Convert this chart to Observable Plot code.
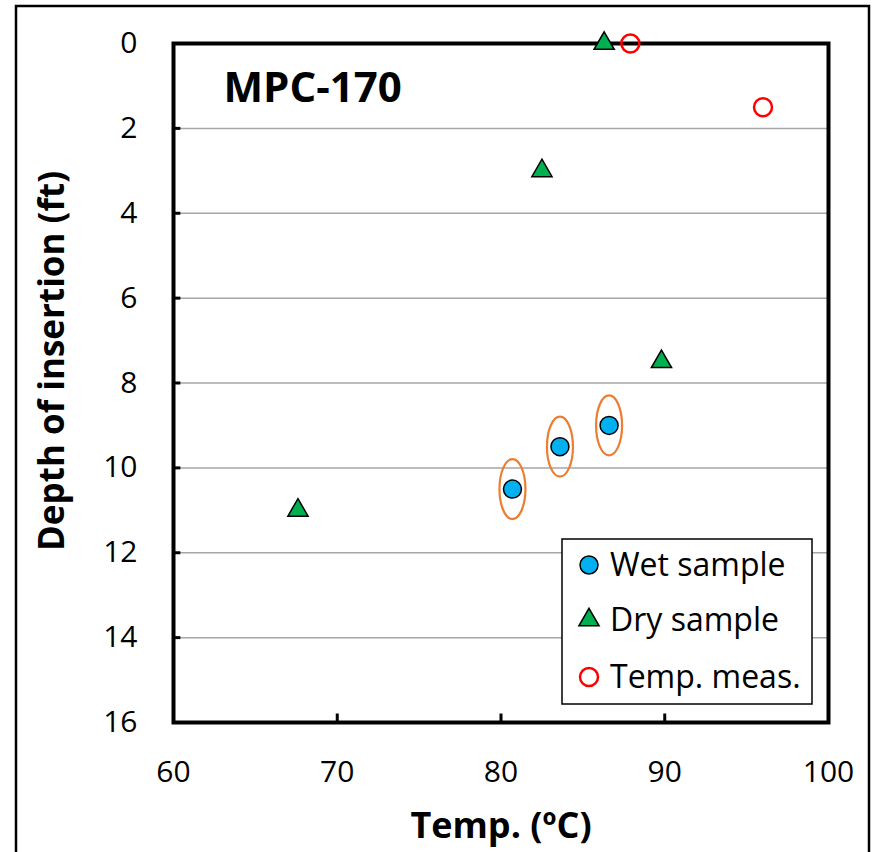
<!DOCTYPE html>
<html>
<head>
<meta charset="utf-8">
<script src="https://cdn.jsdelivr.net/npm/d3@7"></script>
<script src="https://cdn.jsdelivr.net/npm/@observablehq/plot@0.6"></script>
<style>
  html, body { margin: 0; padding: 0; background: white; }
  #chart svg { display: block; }
</style>
</head>
<body>
<div id="chart"></div>
<script>
// ---- data ----
const wetTemp = [80.7, 83.6, 86.6];
const wetDepth = [10.5, 9.5, 9.0];
const dryTemp = [86.3, 82.5, 89.8, 67.6];
const dryDepth = [0.0, 3.0, 7.5, 11.0];
const measTemp = [87.9, 96.0];
const measDepth = [0.0, 1.5];
const xTicks = [60, 70, 80, 90, 100];
const yTicks = [0, 2, 4, 6, 8, 10, 12, 14, 16];
const gridDepths = [2, 4, 6, 8, 10, 12, 14];
const innerXTicks = [70, 80, 90];
const seriesNames = ["Wet sample", "Dry sample", "Temp. meas."];
const chartTitle = "MPC-170";
const xLabel = "Temp. (ºC)";
const yLabel = "Depth of insertion (ft)";

const wet = wetTemp.map((t, i) => ({t, d: wetDepth[i]}));
const dry = dryTemp.map((t, i) => ({t, d: dryDepth[i]}));
const meas = measTemp.map((t, i) => ({t, d: measDepth[i]}));

const ellipse = {
  draw(ctx) {
    const rx = 13, ry = 30, k = 0.5523;
    ctx.moveTo(rx, 0);
    ctx.bezierCurveTo(rx, ry * k, rx * k, ry, 0, ry);
    ctx.bezierCurveTo(-rx * k, ry, -rx, ry * k, -rx, 0);
    ctx.bezierCurveTo(-rx, -ry * k, -rx * k, -ry, 0, -ry);
    ctx.bezierCurveTo(rx * k, -ry, rx, -ry * k, rx, 0);
    ctx.closePath();
  }
};

const FONT = "'Open Sans', 'Noto Sans', sans-serif";

const chart = Plot.plot({
  width: 875,
  height: 852,
  marginLeft: 173,
  marginRight: 47,
  marginTop: 43,
  marginBottom: 130,
  style: {fontFamily: FONT, color: "#000", background: "white", overflow: "visible"},
  x: {domain: [60, 100]},
  y: {domain: [0, 16], reverse: true},
  marks: [
    Plot.ruleY(gridDepths, {stroke: "#a6a6a6", strokeWidth: 1.5}),
    Plot.ruleX(innerXTicks, {y1: 16, y2: 15.8, stroke: "black", strokeWidth: 3}),
    Plot.ruleY(gridDepths, {x1: 60, x2: 60.45, stroke: "black", strokeWidth: 3}),
    Plot.frame({stroke: "black", strokeWidth: 4}),
    Plot.axisX({ticks: xTicks, tickSize: 0, tickPadding: 38, fontSize: 30, label: null, tickFormat: d => String(d)}),
    Plot.axisY({ticks: yTicks, tickSize: 0, tickPadding: 36, fontSize: 30, label: null, tickFormat: d => String(d)}),
    Plot.text([xLabel], {text: d => d, frameAnchor: "bottom", dy: 104, lineAnchor: "middle", textAnchor: "middle", fontSize: 36, fontWeight: "bold"}),
    Plot.text([yLabel], {text: d => d, frameAnchor: "left", dx: -121, dy: -22, rotate: -90, lineAnchor: "middle", textAnchor: "middle", fontSize: 35, fontWeight: "bold"}),
    Plot.text([chartTitle], {text: d => d, frameAnchor: "top-left", dx: 50, dy: 45, lineAnchor: "middle", textAnchor: "start", fontSize: 42, fontWeight: "bold"}),
    Plot.dot(wet, {x: "t", y: "d", symbol: ellipse, fill: "none", stroke: "#ED7D31", strokeWidth: 2.2}),
    Plot.dot(wet, {x: "t", y: "d", r: 9, fill: "#00B0F0", stroke: "black", strokeWidth: 1.5}),
    Plot.dot(dry, {x: "t", y: "d", symbol: "triangle", r: 7.5, fill: "#00B050", stroke: "black", strokeWidth: 1.5}),
    Plot.dot(meas, {x: "t", y: "d", r: 9, fill: "none", stroke: "#FF0000", strokeWidth: 2.5})
  ]
});

const svg = d3.select(chart);
// outer chart border
svg.append("rect").attr("x", 16).attr("y", 6).attr("width", 853).attr("height", 860)
  .attr("fill", "none").attr("stroke", "black").attr("stroke-width", 2.5);

// legend
const lg = svg.append("g").attr("text-anchor", "start");
lg.append("rect").attr("x", 562).attr("y", 539).attr("width", 250).attr("height", 165)
  .attr("fill", "white").attr("stroke", "black").attr("stroke-width", 1.5);
const rowsY = [565, 620, 677];
lg.append("circle").attr("cx", 589).attr("cy", rowsY[0]).attr("r", 9)
  .attr("fill", "#00B0F0").attr("stroke", "black").attr("stroke-width", 1.5);
lg.append("path").attr("transform", `translate(589,${rowsY[1]})`)
  .attr("d", d3.symbol(d3.symbolTriangle, 7.5 * 7.5 * Math.PI)())
  .attr("fill", "#00B050").attr("stroke", "black").attr("stroke-width", 1.5);
lg.append("circle").attr("cx", 589).attr("cy", rowsY[2]).attr("r", 9)
  .attr("fill", "none").attr("stroke", "#FF0000").attr("stroke-width", 2.5);
seriesNames.forEach((name, i) => {
  lg.append("text").attr("x", 610).attr("y", rowsY[i]).attr("dy", "0.35em")
    .attr("text-anchor", "start")
    .attr("font-family", FONT).attr("font-size", 32).attr("fill", "black").text(name);
});

document.getElementById("chart").appendChild(chart);
</script>
</body>
</html>
